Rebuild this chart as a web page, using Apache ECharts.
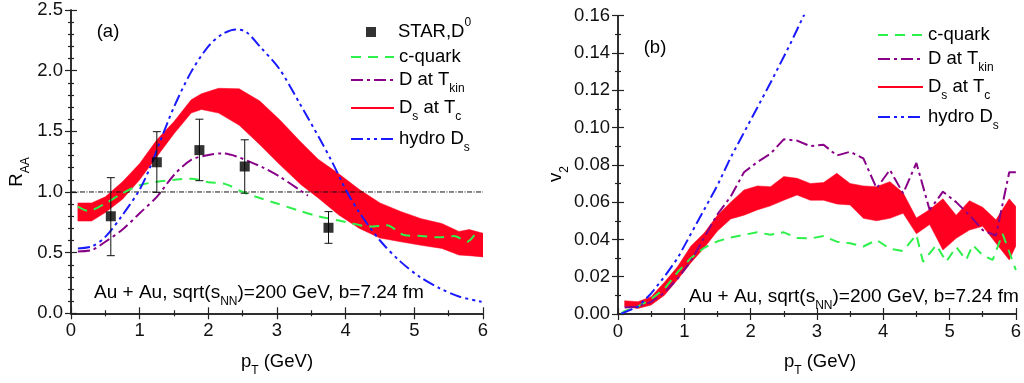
<!DOCTYPE html>
<html>
<head>
<meta charset="utf-8">
<script src="https://cdn.jsdelivr.net/npm/echarts@6/dist/echarts.min.js"></script>
<style>html,body{margin:0;padding:0;background:#fff}#c{width:1024px;height:383px}</style>
</head>
<body>
<div id="c"></div>
<script>
// ---------- Panel (a): R_AA ----------
const bandAX  = [0.1,0.3,0.5,0.75,1.0,1.25,1.5,1.75,1.9,2.15,2.45,2.75,3.05,3.35,3.6,3.9,4.2,4.5,4.8,5.1,5.4,5.65,5.8,6.0];
const bandAHi = [0.91,0.91,0.96,1.085,1.235,1.43,1.58,1.76,1.81,1.855,1.85,1.75,1.59,1.41,1.27,1.15,1.02,0.91,0.84,0.78,0.74,0.675,0.69,0.66];
const bandALo = [0.76,0.76,0.83,0.94,1.10,1.29,1.48,1.65,1.68,1.65,1.55,1.39,1.22,1.06,0.95,0.81,0.70,0.62,0.59,0.56,0.535,0.48,0.475,0.465];

const cqAX = [0.1,0.25,0.5,0.75,1.0,1.25,1.5,1.75,2.0,2.25,2.5,2.75,3.0,3.3,3.6,3.9,4.1,4.35,4.6,4.85,5.1,5.35,5.58,5.77,5.9];
const cqAY = [0.88,0.845,0.905,0.99,1.055,1.085,1.10,1.11,1.08,1.065,1.00,0.95,0.905,0.85,0.80,0.765,0.74,0.715,0.725,0.645,0.637,0.626,0.637,0.59,0.665];

const dkAX = [0.1,0.3,0.5,0.75,1.0,1.25,1.5,1.75,2.0,2.2,2.4,2.6,2.8,3.04,3.33,3.45];
const dkAY = [0.51,0.52,0.59,0.69,0.825,0.96,1.14,1.265,1.305,1.318,1.295,1.25,1.20,1.126,1.016,0.97];

const hyAX = [0.1,0.3,0.5,0.75,1.0,1.15,1.3,1.5,1.75,2.0,2.2,2.4,2.55,2.75,3.04,3.33,3.62,3.8,4.02,4.2,4.5,4.79,5.08,5.37,5.66,5.98];
const hyAY = [0.535,0.55,0.63,0.81,1.02,1.20,1.42,1.70,1.99,2.20,2.30,2.34,2.32,2.20,2.01,1.73,1.44,1.25,1.0,0.83,0.60,0.43,0.30,0.206,0.137,0.096];

const starX  = [0.58,1.25,1.87,2.53,3.75];
const starY  = [0.80,1.245,1.345,1.21,0.705];
const starLo = [0.475,0.997,1.093,0.99,0.577];
const starHi = [1.118,1.497,1.60,1.43,0.838];

const refLevel = 1.0;
const ticksA = {xMin:0, xMax:6, xStep:1, yMin:0, yMax:2.5, yStep:0.5};

// ---------- Panel (b): v2 ----------
const bandBX  = [0.1,0.3,0.5,0.7,0.9,1.1,1.3,1.5,1.7,1.9,2.1,2.3,2.5,2.7,2.9,3.1,3.3,3.5,3.7,3.9,4.1,4.3,4.5,4.7,4.9,5.1,5.3,5.5,5.7,5.9,6.0];
const bandBHi = [0.0071,0.0066,0.0093,0.0170,0.0255,0.0365,0.0435,0.0530,0.0600,0.0665,0.0687,0.0683,0.0737,0.0728,0.0700,0.0705,0.0755,0.0700,0.0687,0.0683,0.0710,0.0650,0.0515,0.0560,0.0618,0.0530,0.0608,0.0572,0.0505,0.0618,0.0576];
const bandBLo = [0.0039,0.0030,0.0048,0.0100,0.0185,0.0275,0.0355,0.0445,0.0510,0.0530,0.0558,0.0580,0.0610,0.0638,0.0610,0.0610,0.0590,0.0585,0.0513,0.0500,0.0513,0.0540,0.0430,0.0480,0.0343,0.0406,0.0450,0.0470,0.0380,0.0290,0.0365];

const dkBX = [0.1,0.3,0.5,0.7,0.9,1.1,1.3,1.5,1.7,1.9,2.1,2.3,2.5,2.7,2.9,3.1,3.3,3.5,3.7,3.9,4.1,4.3,4.5,4.7,4.9,5.1,5.3,5.5,5.7,5.9,6.0];
const dkBY = [0.0035,0.0040,0.0065,0.0115,0.0190,0.0285,0.0410,0.0535,0.0630,0.0760,0.0815,0.0860,0.0937,0.0930,0.0900,0.0908,0.0850,0.0870,0.0835,0.0674,0.0773,0.0647,0.0810,0.0558,0.0656,0.0600,0.0530,0.0450,0.0420,0.0760,0.0760];

const cqBX = [0.05,0.1,0.3,0.5,0.7,0.9,1.1,1.3,1.5,1.7,1.9,2.1,2.3,2.5,2.7,2.9,3.1,3.3,3.5,3.7,3.9,4.1,4.3,4.5,4.6,4.8,4.95,5.1,5.25,5.35,5.5,5.65,5.8,6.0];
const cqBY = [0.0005,0.0015,0.0040,0.0080,0.0135,0.0225,0.0300,0.0355,0.0390,0.0410,0.0425,0.0438,0.0425,0.0438,0.0408,0.0405,0.0418,0.0388,0.0379,0.0362,0.0397,0.0350,0.0338,0.0425,0.0280,0.0370,0.0280,0.0360,0.0290,0.0370,0.0315,0.0290,0.0430,0.0236];

const hyBX = [0.05,0.3,0.5,0.7,0.9,1.1,1.3,1.5,1.7,2.0,2.3,2.6,2.8,3.0];
const hyBY = [0.0002,0.0039,0.0110,0.0200,0.0300,0.0430,0.0560,0.0690,0.0840,0.1040,0.1240,0.1450,0.1600,0.1730];

const ticksB = {xMin:0, xMax:6, xStep:1, yMin:0, yMax:0.16, yStep:0.02};

// ---------- styling ----------
const FONT = 'Liberation Sans';
const FS = 18.5;
const C_GREEN = '#2ef04a', C_PURPLE = '#880088', C_BLUE = '#1a1aff', C_RED = '#ff0020';
const DASH_G = [10,7], DASH_P = [12,4,3,4], DASH_B = [12,4,3,4,3,4];
const SUB = {fontSize:12, fontFamily:FONT, padding:[18,0,0,0]};
const SUP = {fontSize:12, fontFamily:FONT, padding:[0,0,18,0]};
const RICH = {sub:SUB, sup:SUP, gap:{width:17, fontSize:FS, fontFamily:FONT}};

const pairs = (xs, ys) => xs.map((x,i) => [x, ys[i]]);

const legendNames = {
  'STAR': '{gap|}STAR,D{sup|0}',
  'c-quark': 'c-quark',
  'D at Tkin': 'D at T{sub|kin}',
  'Ds at Tc': 'D{sub|s} at T{sub|c}',
  'hydro Ds': 'hydro D{sub|s}'
};

function makeAxes(gi, t, yDigits, yMinorSplit){
  const lineS = {show:true, lineStyle:{color:'#222', width:1.5}};
  const tick = {show:true, inside:true, length:6, lineStyle:{color:'#222', width:1.2}};
  const minor = (n) => ({show:true, splitNumber:n, length:3, lineStyle:{color:'#222', width:1.2}});
  const lbl = {fontSize:FS, fontFamily:FONT, color:'#111'};
  const xa = [
    {gridIndex:gi, type:'value', min:t.xMin, max:t.xMax, interval:t.xStep, position:'bottom',
     axisLine:lineS, axisTick:tick, minorTick:minor(2), splitLine:{show:false},
     axisLabel:Object.assign({margin:8, formatter:v=>String(v)}, lbl)},
    {gridIndex:gi, type:'value', min:t.xMin, max:t.xMax, interval:t.xStep, position:'top',
     axisLine:lineS, axisTick:tick, minorTick:minor(2), splitLine:{show:false}, axisLabel:{show:false}}
  ];
  const ya = [
    {gridIndex:gi, type:'value', min:t.yMin, max:t.yMax, interval:t.yStep, position:'left',
     axisLine:lineS, axisTick:tick, minorTick:minor(yMinorSplit), splitLine:{show:false},
     axisLabel:Object.assign({margin:8, formatter:v=>v.toFixed(yDigits)}, lbl)},
    {gridIndex:gi, type:'value', min:t.yMin, max:t.yMax, interval:t.yStep, position:'right',
     axisLine:lineS, axisTick:tick, minorTick:minor(yMinorSplit), splitLine:{show:false}, axisLabel:{show:false}}
  ];
  return {xa, ya};
}
const axA = makeAxes(0, ticksA, 1, 5);
const axB = makeAxes(1, ticksB, 2, 2);

function bandSeries(xi, yi, xs, hi, lo){
  return {
    type:'custom', name:'Ds at Tc', xAxisIndex:xi, yAxisIndex:yi, clip:true, z:1, silent:true,
    data:[[xs[0], lo[0]]],
    renderItem:(params, api) => {
      const pts = [];
      for (let i=0;i<xs.length;i++) pts.push(api.coord([xs[i], hi[i]]));
      for (let i=xs.length-1;i>=0;i--) pts.push(api.coord([xs[i], lo[i]]));
      return {type:'polygon', shape:{points:pts}, style:{fill:C_RED, stroke:C_RED, lineWidth:0.5}};
    }
  };
}
function lineSeries(name, xi, yi, xs, ys, color, dash, smooth){
  return {type:'line', name, xAxisIndex:xi, yAxisIndex:yi, data:pairs(xs, ys), symbol:'none',
    smooth: smooth, z:3, clip:true, silent:true,
    lineStyle:{color, width:2, type:dash}, itemStyle:{color}};
}

const series = [
  // legend proxy for the band (thick red line)
  {type:'line', name:'Ds at Tc', xAxisIndex:0, yAxisIndex:0, data:[], symbol:'none',
   lineStyle:{color:C_RED, width:5}, itemStyle:{color:C_RED}},
  bandSeries(0, 0, bandAX, bandAHi, bandALo),
  {type:'line', name:'ref', xAxisIndex:0, yAxisIndex:0, data:[[ticksA.xMin, refLevel],[ticksA.xMax, refLevel]],
   symbol:'none', z:2, silent:true, lineStyle:{color:'#111', width:1, type:[5,1.5,1,1.5]}},
  lineSeries('c-quark', 0, 0, cqAX, cqAY, C_GREEN, DASH_G, 0.3),
  lineSeries('D at Tkin', 0, 0, dkAX, dkAY, C_PURPLE, DASH_P, 0.3),
  lineSeries('hydro Ds', 0, 0, hyAX, hyAY, C_BLUE, DASH_B, 0.3),
  {type:'custom', name:'STAR err', xAxisIndex:0, yAxisIndex:0, z:4, silent:true,
   data: starX.map((x,i)=>[x, starLo[i], starHi[i]]),
   renderItem:(params, api) => {
     const x = api.value(0), lo = api.coord([x, api.value(1)]), hi = api.coord([x, api.value(2)]);
     const w = 4;
     const st = {stroke:'#111', lineWidth:1};
     return {type:'group', children:[
       {type:'line', shape:{x1:lo[0], y1:lo[1], x2:hi[0], y2:hi[1]}, style:st},
       {type:'line', shape:{x1:lo[0]-w, y1:lo[1], x2:lo[0]+w, y2:lo[1]}, style:st},
       {type:'line', shape:{x1:hi[0]-w, y1:hi[1], x2:hi[0]+w, y2:hi[1]}, style:st}
     ]};
   }},
  {type:'scatter', name:'STAR', xAxisIndex:0, yAxisIndex:0, z:5, silent:true,
   data: pairs(starX, starY), symbol:'rect', symbolSize:10, itemStyle:{color:'#000'}},
  // panel b
  bandSeries(2, 2, bandBX, bandBHi, bandBLo),
  lineSeries('c-quark', 2, 2, cqBX, cqBY, C_GREEN, DASH_G, false),
  lineSeries('D at Tkin', 2, 2, dkBX, dkBY, C_PURPLE, DASH_P, false),
  lineSeries('hydro Ds', 2, 2, hyBX, hyBY, C_BLUE, DASH_B, false)
];

function oneLegend(name, left, centerY, itemWidth, itemHeight, hideSymbol){
  const lg = {
    data:[name], left, top: centerY - 15, orient:'vertical', padding:0,
    itemWidth, itemHeight, selectedMode:false, inactiveColor:'#000',
    formatter: n => legendNames[n],
    textStyle:{fontSize:FS, fontFamily:FONT, color:'#000', lineHeight:30, rich:RICH}
  };
  if (hideSymbol) lg.itemStyle = {opacity:0, borderWidth:0};
  return lg;
}
const legends = [
  oneLegend('STAR', 366, 32, 10, 10, false),
  oneLegend('c-quark', 350, 57, 43, 14, true),
  oneLegend('D at Tkin', 350, 80, 43, 14, true),
  oneLegend('Ds at Tc', 350, 108, 43, 14, true),
  oneLegend('hydro Ds', 350, 139, 43, 14, true),
  oneLegend('c-quark', 877, 35, 45, 14, true),
  oneLegend('D at Tkin', 877, 59, 45, 14, true),
  oneLegend('Ds at Tc', 877, 87, 45, 14, true),
  oneLegend('hydro Ds', 877, 117, 45, 14, true)
];

function txt(x, y, text, opts){
  return Object.assign({type:'text', x, y, z:100, silent:true,
    style:Object.assign({text, fontSize:FS, fontFamily:FONT, fill:'#000', align:'left',
      verticalAlign:'middle', lineHeight:30, rich:RICH}, (opts && opts.style) || {})},
    (opts && opts.el) || {});
}
const graphics = [
  txt(108, 32, '(a)', {style:{align:'center'}}),
  txt(655, 48, '(b)', {style:{align:'center'}}),
  txt(94, 293, 'Au + Au, sqrt(s{sub|NN})=200 GeV, b=7.24 fm', {style:{fontSize:19}}),
  txt(689, 297, 'Au + Au, sqrt(s{sub|NN})=200 GeV, b=7.24 fm', {style:{fontSize:19}}),
  txt(277, 362, 'p{sub|T} (GeV)', {style:{align:'center'}}),
  txt(820, 362, 'p{sub|T} (GeV)', {style:{align:'center'}}),
  txt(17, 172, 'R{sub|AA}', {style:{align:'center'}, el:{rotation:Math.PI/2}}),
  txt(556, 174, 'v{sub|2}', {style:{align:'center'}, el:{rotation:Math.PI/2}})
];

const chart = echarts.init(document.getElementById('c'), null, {renderer:'canvas'});
chart.setOption({
  animation:false,
  backgroundColor:'#fff',
  grid:[
    {left:71, top:10, width:412, height:303.3},
    {left:618, top:15.7, width:404, height:298.3}
  ],
  xAxis:[...axA.xa, ...axB.xa],
  yAxis:[...axA.ya, ...axB.ya],
  legend: legends,
  series,
  graphic: graphics
});
</script>
</body>
</html>
